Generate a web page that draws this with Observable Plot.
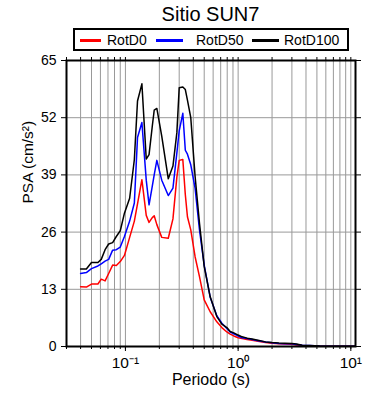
<!DOCTYPE html>
<html>
<head>
<meta charset="utf-8">
<script src="https://cdn.jsdelivr.net/npm/d3@7"></script>
<script src="https://cdn.jsdelivr.net/npm/@observablehq/plot@0.6"></script>
<style>
  html, body { margin: 0; padding: 0; background: #fff; }
  #wrap { position: relative; width: 390px; height: 400px; font-family: "Liberation Sans", Arial, Helvetica, sans-serif; }
  #title { position: absolute; left: 66px; width: 289px; top: 4px; text-align: center; font-size: 20px; line-height: 20px; color: #000; }
  #legend { position: absolute; left: 73px; top: 28px; width: 276px; height: 23px; border: 2px solid #000; box-sizing: border-box; background: #fff; }
  .sw { position: absolute; height: 3px; top: 38.5px; }
  .lt { position: absolute; font-size: 14px; line-height: 14px; top: 33px; color: #000; white-space: nowrap; }
  #chart { position: absolute; left: 0; top: 0; }
</style>
</head>
<body>
<div id="wrap">
  <div id="chart"></div>
  <div id="title"></div>
  <div id="legend"></div>
</div>
<script>
// ---- data ----
const titleText = "Sitio SUN7";
const seriesNames = ["RotD0", "RotD50", "RotD100"];
const seriesColors = ["#ff0000", "#0000ff", "#000000"];

const periods = [0.04, 0.045, 0.05, 0.057, 0.061, 0.066, 0.071, 0.077, 0.083, 0.09,
  0.098, 0.109, 0.12, 0.128, 0.14, 0.153, 0.162, 0.173, 0.18, 0.19,
  0.21, 0.24, 0.264, 0.286, 0.30, 0.323, 0.34, 0.355, 0.38, 0.415,
  0.454, 0.5, 0.565, 0.647, 0.717, 0.794, 0.85, 0.915, 1.0, 1.085,
  1.2, 1.33, 1.5, 1.75, 2.0, 2.3, 2.6, 3.0, 3.3, 3.7,
  4.3, 5.3, 6.5, 8, 10, 11];

const rotD0 = [13.6, 13.5, 14.2, 14.2, 15.3, 14.9, 16.6, 18.5, 18.4, 19.3,
  20.7, 24.8, 28.5, 32.4, 37.9, 29.8, 28.2, 29.3, 29.7, 27.7,
  24.8, 24.6, 29.0, 38.5, 42.3, 42.5, 34.5, 29.5, 26.5, 20.4,
  15.9, 10.6, 7.9, 5.6, 4.3, 3.3, 2.8, 2.4, 2.0, 1.8,
  1.6, 1.4, 1.2, 0.9, 0.75, 0.6, 0.55, 0.5, 0.35, 0.22,
  0.15, 0.08, 0.05, 0.04, 0.03, 0.03];

const rotD50 = [16.6, 16.8, 17.7, 18.3, 18.8, 19.4, 19.8, 21.9, 22.0, 22.6,
  25.0, 28.5, 32.6, 47.5, 50.9, 37.8, 32.2, 36.4, 39.0, 42.3,
  37.8, 34.3, 36.0, 44.0, 49.0, 53.0, 44.6, 43.7, 41.3, 36.0,
  26.5, 18.5, 11.2, 7.0, 5.3, 4.1, 3.3, 2.9, 2.4, 2.0,
  1.8, 1.6, 1.3, 1.0, 0.85, 0.7, 0.65, 0.6, 0.45, 0.28,
  0.2, 0.1, 0.07, 0.05, 0.04, 0.03];

const rotD100 = [17.6, 17.6, 19.1, 19.1, 19.8, 22.0, 23.3, 23.6, 25.0, 26.3,
  30.3, 33.7, 42.5, 55.8, 59.7, 42.6, 43.6, 50.0, 53.7, 54.1,
  47.8, 38.1, 41.0, 48.6, 58.8, 59.0, 58.4, 56.0, 52.0, 38.7,
  28.0, 18.2, 11.3, 6.8, 5.1, 4.3, 3.4, 3.1, 2.6, 2.2,
  1.9, 1.7, 1.4, 1.05, 0.9, 0.8, 0.75, 0.7, 0.55, 0.3,
  0.22, 0.12, 0.08, 0.06, 0.04, 0.04];

const yTicks = [0, 13, 26, 39, 52, 65];
const yGrid = [13, 26, 39, 52];
const xMajor = [0.1, 1, 10];
const xMajorLabels = ["10\u207B\u00B9", "10\u2070", "10\u00B9"];
const xMinor = [0.03, 0.04, 0.05, 0.06, 0.07, 0.08, 0.09,
  0.1, 0.2, 0.3, 0.4, 0.5, 0.6, 0.7, 0.8, 0.9,
  1, 2, 3, 4, 5, 6, 7, 8, 9, 10];
const xGrid = xMinor.filter(v => v > 0.03);
const xLabel = "Periodo (s)";
const yLabel = "PSA (cm/s\u00B2)";

// ---- build ----
const seriesValues = [rotD0, rotD50, rotD100];
const rows = seriesValues.map((vals, i) => vals.map((v, j) => ({period: periods[j], psa: v, series: seriesNames[i]})));
const majorLabelMap = new Map(xMajor.map((v, i) => [v, xMajorLabels[i]]));

const font = "'Liberation Sans', Arial, Helvetica, sans-serif";

const plot = Plot.plot({
  width: 390,
  height: 400,
  marginLeft: 66,
  marginRight: 35,
  marginTop: 60,
  marginBottom: 54,
  style: {fontFamily: font, background: "#fff", color: "#000"},
  x: {type: "log", domain: [0.03, 11]},
  y: {domain: [0, 65]},
  marks: [
    Plot.gridX(xGrid, {stroke: "#999", strokeOpacity: 1, strokeWidth: 1}),
    Plot.gridY(yGrid, {stroke: "#999", strokeOpacity: 1, strokeWidth: 1}),
    ...rows.map((r, i) => Plot.line(r, {x: "period", y: "psa", stroke: seriesColors[i], strokeWidth: 1.5, strokeLinejoin: "round"})),
    Plot.frame({stroke: "#000", strokeWidth: 2}),
    Plot.axisX(xMinor, {anchor: "bottom", tickSize: 3, tickFormat: () => "", label: null}),
    Plot.axisX(xMajor, {anchor: "bottom", tickSize: 5, tickPadding: 5, fontSize: 15.5, tickFormat: d => majorLabelMap.get(d), label: null}),
    Plot.axisX(xMinor, {anchor: "top", tickSize: 4, tickFormat: () => "", label: null}),
    Plot.axisY(yTicks, {anchor: "left", tickSize: 5, tickPadding: 5, fontSize: 14, label: null}),
    Plot.axisY(yTicks, {anchor: "right", tickSize: 5, tickFormat: () => "", label: null}),
    Plot.text([yLabel], {frameAnchor: "left", dx: -38, rotate: -90, fontSize: 15.5, fill: "#000"}),
    Plot.text([xLabel], {frameAnchor: "bottom", dy: 38, fontSize: 16, fill: "#000"})
  ]
});
document.getElementById("chart").appendChild(plot);

// title
document.getElementById("title").textContent = titleText;

// legend
const legendPos = [
  {line: [80, 101], text: 107},
  {line: [156, 183], text: 196},
  {line: [252, 279], text: 284}
];
const wrap = document.getElementById("wrap");
seriesNames.forEach((name, i) => {
  const sw = document.createElement("div");
  sw.className = "sw";
  sw.style.left = legendPos[i].line[0] + "px";
  sw.style.width = (legendPos[i].line[1] - legendPos[i].line[0]) + "px";
  sw.style.background = seriesColors[i];
  wrap.appendChild(sw);
  const t = document.createElement("div");
  t.className = "lt";
  t.style.left = legendPos[i].text + "px";
  t.textContent = name;
  wrap.appendChild(t);
});
</script>
</body>
</html>
